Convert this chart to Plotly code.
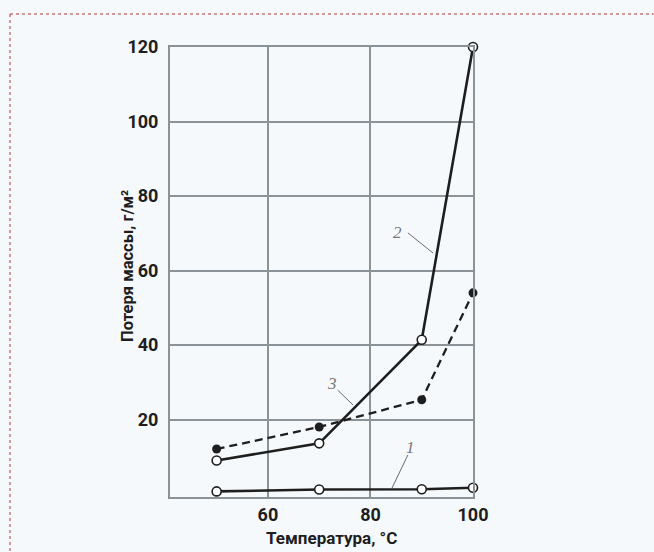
import plotly.graph_objects as go

temperature = [50, 70, 90, 100]
curve1 = [0.7, 1.2, 1.3, 1.7]
curve2 = [9.0, 13.6, 41.4, 120.0]
curve3 = [12.1, 18.0, 25.3, 54.0]

x_ticks = [60, 80, 100]
y_ticks = [20, 40, 60, 80, 100, 120]

label_text = ["1", "2", "3"]
label_x = [87.8, 85.3, 72.4]
label_y = [12.5, 70.1, 29.8]
leader_x0 = [87.3, 87.3, 73.6]
leader_y0 = [10.5, 70.1, 27.9]
leader_x1 = [84.2, 92.2, 76.6]
leader_y1 = [1.6, 64.7, 23.9]

W, H = 654, 552
ML, MR, MT, MB = 170, 181, 47, 55
XR = [40.9, 100]
YR = [-0.8, 120]

FONT = "Roboto, Inter, sans-serif"
DARK = "#1e1e1e"
GRID = "#8c9398"
BG = "#f6f9fc"

fig = go.Figure()
fig.add_trace(go.Scatter(x=temperature, y=curve1, mode="lines+markers",
                         line=dict(color=DARK, width=2.6),
                         marker=dict(symbol="circle", size=9, color="white",
                                     line=dict(color=DARK, width=1.6)),
                         cliponaxis=False, showlegend=False))
fig.add_trace(go.Scatter(x=temperature, y=curve2, mode="lines+markers",
                         line=dict(color=DARK, width=2.6),
                         marker=dict(symbol="circle", size=9, color="white",
                                     line=dict(color=DARK, width=1.6)),
                         cliponaxis=False, showlegend=False))
fig.add_trace(go.Scatter(x=temperature, y=curve3, mode="lines+markers",
                         line=dict(color=DARK, width=2.3, dash="8px,5px"),
                         marker=dict(symbol="circle", size=9, color=DARK),
                         cliponaxis=False, showlegend=False))

shapes = []
for i in range(3):
    shapes.append(dict(type="line", xref="x", yref="y",
                       x0=leader_x0[i], y0=leader_y0[i], x1=leader_x1[i], y1=leader_y1[i],
                       line=dict(color="#6a6a6a", width=1)))
    fig.add_annotation(x=label_x[i], y=label_y[i], xref="x", yref="y",
                       text="<i>" + label_text[i] + "</i>", showarrow=False,
                       xanchor="center", yanchor="middle",
                       font=dict(family="Liberation Serif, DejaVu Serif, serif", size=17, color="#777"))

pw = W - ML - MR
ph = H - MT - MB
bx = (10 - ML) / pw
by = (H - MB - 14) / ph
shapes.append(dict(type="line", xref="paper", yref="paper", x0=bx, y0=by, x1=(W - ML) / pw, y1=by,
                   line=dict(color="#b03a3a", width=1, dash="dot")))
shapes.append(dict(type="line", xref="paper", yref="paper", x0=bx, y0=by, x1=bx, y1=-MB / ph,
                   line=dict(color="#b03a3a", width=1, dash="dot")))

fig.add_annotation(text="Потеря массы, г/м²", xref="paper", yref="paper",
                   x=(127 - ML) / pw, y=(H - MB - 266) / ph, textangle=-90, showarrow=False,
                   xanchor="center", yanchor="middle",
                   font=dict(family=FONT, size=16.5, color=DARK, weight="bold"))
fig.add_annotation(text="Температура, °С", xref="paper", yref="paper",
                   x=(331 - ML) / pw, y=-(538 - (H - MB)) / ph, showarrow=False,
                   xanchor="center", yanchor="middle",
                   font=dict(family=FONT, size=17, color=DARK, weight="bold"))

fig.update_layout(
    width=W, height=H,
    margin=dict(l=ML, r=MR, t=MT, b=MB),
    paper_bgcolor=BG, plot_bgcolor=BG,
    shapes=shapes,
    xaxis=dict(range=XR, tickvals=x_ticks, showgrid=True, gridcolor=GRID, gridwidth=2,
               showline=True, linecolor=GRID, linewidth=2, mirror=True, zeroline=False,
               ticks="", tickfont=dict(family=FONT, size=18, color=DARK, weight="bold")),
    yaxis=dict(range=YR, tickvals=y_ticks, showgrid=True, gridcolor=GRID, gridwidth=2,
               showline=True, linecolor=GRID, linewidth=2, mirror=True, zeroline=False,
               ticks="", ticklabelstandoff=6,
               tickfont=dict(family=FONT, size=18, color=DARK, weight="bold")),
)

fig.write_html("out.html")
